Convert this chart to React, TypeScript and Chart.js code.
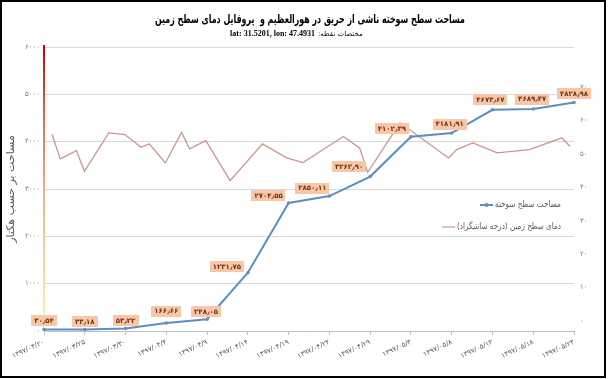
import React, { useEffect, useRef } from 'react';
import { Chart, registerables } from 'chart.js';

Chart.register(...registerables);

// ---------- data ----------
const dateLabels = [
  '۱۳۹۷/۰۳/۲۰', '۱۳۹۷/۰۳/۲۵', '۱۳۹۷/۰۳/۳۰', '۱۳۹۷/۰۴/۴', '۱۳۹۷/۰۴/۹',
  '۱۳۹۷/۰۴/۱۴', '۱۳۹۷/۰۴/۱۹', '۱۳۹۷/۰۴/۲۴', '۱۳۹۷/۰۴/۲۹', '۱۳۹۷/۰۵/۳',
  '۱۳۹۷/۰۵/۸', '۱۳۹۷/۰۵/۱۳', '۱۳۹۷/۰۵/۱۸', '۱۳۹۷/۰۵/۲۳',
];
const burnedArea = [
  30.54, 33.18, 53.22, 166.66, 248.05, 1231.75, 2704.55, 2850.11, 3262.9,
  4102.39, 4181.91, 4673.67, 4689.47, 4828.98,
];
// days after 1397/03/20
const tempDays = [
  1, 2, 4, 5, 8, 10, 12, 13, 15, 17, 18, 20, 23, 27, 30, 32, 37, 39, 40, 44,
  50, 51, 53, 56, 60, 64, 65,
];
const surfaceTemp = [
  55.8, 48.5, 51.0, 44.8, 56.3, 55.8, 52.0, 53.0, 47.3, 56.4, 51.5, 54.0, 42.0,
  53.0, 48.8, 47.4, 55.2, 51.8, 44.5, 59.3, 48.8, 51.3, 53.3, 50.3, 51.3, 54.8,
  52.2,
];
const areaTicks = [0, 1000, 2000, 3000, 4000, 5000, 6000];
const tempTicks = [0, 10, 20, 30, 40, 50, 60, 70];

const titleText = 'مساحت سطح سوخته ناشی از حریق در هورالعظیم و  پروفایل دمای سطح زمین';
const coordLabel = 'مختصات نقطه:';
const coordText = 'lat: 31.5201, lon: 47.4931';
const areaAxisTitle = 'مساحت بر حسب هکتار';
const areaSeriesName = 'مساحت سطح سوخته';
const tempSeriesName = 'دمای سطح زمین (درجه سانتیگراد)';

// label offsets (box centre relative to its point), styling only
const labelShift: [number, number][] = [
  [0, -9], [0, -8], [0, -8], [0, -12], [-1, -8], [-21, -6], [-20, -7],
  [-17, -8], [-21, -10], [-19, -8], [-2, -9], [-2, -10], [-1, -10], [0, -9],
];

// ---------- helpers ----------
const FA = '۰۱۲۳۴۵۶۷۸۹';
const toFa = (s: string) => s.replace(/\d/g, (d) => FA[Number(d)]);
const fmt = (v: number) => toFa(v.toFixed(2)).replace('.', '٫');
const FONT = 'DejaVu Sans';

const BLUE = '#5B8EC4';
const PINK = '#CC9490';

// right-to-left text, optionally condensed to a max width; returns drawn width
function drawRtl(
  ctx: CanvasRenderingContext2D,
  text: string,
  x: number,
  y: number,
  align: 'left' | 'center' | 'right',
  maxW?: number,
): number {
  ctx.save();
  ctx.direction = 'rtl';
  ctx.textAlign = align;
  const natural = ctx.measureText(text).width;
  const w = maxW && natural > maxW ? maxW : natural;
  if (maxW) ctx.fillText(text, x, y, maxW);
  else ctx.fillText(text, x, y);
  ctx.restore();
  return w;
}

const decorPlugin = {
  id: 'decor',
  beforeDraw(chart: any) {
    const { ctx, width, height } = chart;
    ctx.save();
    ctx.fillStyle = '#ffffff';
    ctx.fillRect(0, 0, width, height);
    ctx.restore();
  },
  beforeDatasetsDraw(chart: any) {
    const { ctx, chartArea } = chart;
    const { left, top, bottom } = chartArea;
    const g = ctx.createLinearGradient(0, top - 2, 0, bottom);
    g.addColorStop(0, '#C00000');
    g.addColorStop(0.25, '#E56B3A');
    g.addColorStop(0.5, '#F3AE78');
    g.addColorStop(0.75, '#F9D68E');
    g.addColorStop(1, '#FFF2B8');
    ctx.save();
    ctx.strokeStyle = g;
    ctx.lineWidth = 2;
    ctx.beginPath();
    ctx.moveTo(left, top - 2);
    ctx.lineTo(left, bottom);
    ctx.stroke();
    ctx.restore();
  },
  afterDatasetsDraw(chart: any) {
    const { ctx } = chart;
    const meta = chart.getDatasetMeta(0);
    ctx.save();
    ctx.font = `bold 7px "${FONT}"`;
    ctx.textAlign = 'center';
    ctx.textBaseline = 'middle';
    meta.data.forEach((pt: any, i: number) => {
      const txt = fmt(burnedArea[i]);
      const w = ctx.measureText(txt).width + 6;
      const h = 11;
      const cx = pt.x + labelShift[i][0];
      const cy = pt.y + labelShift[i][1];
      ctx.fillStyle = '#F6C7A8';
      ctx.fillRect(Math.round(cx - w / 2), Math.round(cy - h / 2), Math.round(w), h);
      ctx.fillStyle = '#7A3512';
      ctx.fillText(txt, cx, cy + 0.5);
    });
    ctx.restore();
  },
  afterDraw(chart: any) {
    const { ctx } = chart;
    ctx.save();
    ctx.textBaseline = 'middle';
    // title
    ctx.fillStyle = '#000000';
    ctx.font = `bold 12px "${FONT}"`;
    drawRtl(ctx, titleText, 310, 20, 'center', 310);
    // subtitle
    ctx.font = 'bold 8px "Liberation Serif"';
    ctx.textAlign = 'right';
    ctx.fillText(coordText, 315, 34);
    ctx.font = `7px "${FONT}"`;
    drawRtl(ctx, coordLabel, 318, 34, 'left', 45);

    // legend
    ctx.font = `9px "${FONT}"`;
    const items = [
      { name: areaSeriesName, color: BLUE, y: 205, dot: true, w: 2, maxW: 66 },
      { name: tempSeriesName, color: PINK, y: 227, dot: false, w: 1.2, maxW: 104 },
    ];
    items.forEach((it) => {
      const right = 561;
      ctx.fillStyle = '#595959';
      const tw = drawRtl(ctx, it.name, right, it.y, 'right', it.maxW);
      const x1 = right - tw - 15;
      const x2 = right - tw - 2;
      ctx.strokeStyle = it.color;
      ctx.lineWidth = it.w;
      ctx.beginPath();
      ctx.moveTo(x1, it.y);
      ctx.lineTo(x2, it.y);
      ctx.stroke();
      if (it.dot) {
        ctx.fillStyle = '#6D8FB5';
        ctx.beginPath();
        ctx.arc((x1 + x2) / 2, it.y, 2, 0, Math.PI * 2);
        ctx.fill();
      }
    });

    // frame
    ctx.strokeStyle = '#000000';
    ctx.lineWidth = 2;
    ctx.strokeRect(1, 1, 604, 376);
    ctx.restore();
  },
};

export default function App() {
  const ref = useRef<HTMLCanvasElement>(null);

  useEffect(() => {
    if (!ref.current) return;
    Chart.defaults.font.family = FONT;
    const chart = new Chart(ref.current, {
      type: 'line',
      data: {
        labels: dateLabels,
        datasets: [
          {
            label: areaSeriesName,
            data: burnedArea,
            xAxisID: 'x',
            yAxisID: 'y',
            borderColor: BLUE,
            backgroundColor: '#6D8FB5',
            borderWidth: 2,
            pointRadius: 1.8,
            pointBorderWidth: 0,
            pointBackgroundColor: '#6D8FB5',
            tension: 0,
            order: 1,
          },
          {
            label: tempSeriesName,
            data: tempDays.map((d, i) => ({ x: d, y: surfaceTemp[i] })),
            xAxisID: 'xd',
            yAxisID: 'yr',
            borderColor: PINK,
            borderWidth: 1.3,
            pointRadius: 0,
            tension: 0,
            order: 2,
          },
        ],
      },
      options: {
        responsive: false,
        animation: false,
        devicePixelRatio: 1,
        layout: { padding: { top: 47, left: 0, right: 0, bottom: 0 } },
        plugins: {
          legend: { display: false },
          title: { display: false },
          tooltip: { enabled: false },
        },
        scales: {
          x: {
            type: 'category',
            position: 'bottom',
            offset: false,
            grid: {
              display: true,
              drawOnChartArea: false,
              drawTicks: true,
              tickLength: 4,
              color: '#BFBFBF',
            },
            border: { display: true, color: '#BFBFBF', width: 1 },
            ticks: {
              autoSkip: false,
              minRotation: 25,
              maxRotation: 25,
              padding: 3,
              color: '#595959',
              font: { size: 7, family: FONT },
            },
            afterFit: (s: any) => {
              s.height = 48;
            },
          },
          xd: {
            type: 'linear',
            display: false,
            min: 0,
            max: 65.5,
          },
          y: {
            type: 'linear',
            position: 'left',
            min: 0,
            max: 6000,
            afterBuildTicks: (s: any) => {
              s.ticks = areaTicks.map((v) => ({ value: v }));
            },
            grid: { color: '#D9D9D9', drawTicks: false, lineWidth: 1 },
            border: { display: false },
            ticks: {
              padding: 4,
              color: '#7F7F7F',
              font: { size: 7, family: FONT },
              callback: (v: any) => toFa(String(v)),
            },
            title: {
              display: true,
              text: areaAxisTitle,
              color: '#595959',
              font: { size: 11, family: FONT },
              padding: { top: 5, bottom: 0 },
            },
            afterFit: (s: any) => {
              s.width = 44;
            },
          },
          yr: {
            type: 'linear',
            position: 'right',
            min: -3,
            max: 82,
            afterBuildTicks: (s: any) => {
              s.ticks = tempTicks.map((v) => ({ value: v }));
            },
            grid: { display: false, drawTicks: false },
            border: { display: false },
            ticks: {
              padding: 6,
              color: '#7F7F7F',
              font: { size: 7, family: FONT },
              callback: (v: any) => toFa(String(v)),
            },
            afterFit: (s: any) => {
              s.width = 34;
            },
          },
        },
      } as any,
      plugins: [decorPlugin],
    });
    return () => chart.destroy();
  }, []);

  return (
    <div style={{ position: 'fixed', left: 0, top: 0, width: 608, height: 379, background: '#fff' }}>
      <canvas ref={ref} width={608} height={379} style={{ display: 'block', width: 608, height: 379 }} />
    </div>
  );
}
